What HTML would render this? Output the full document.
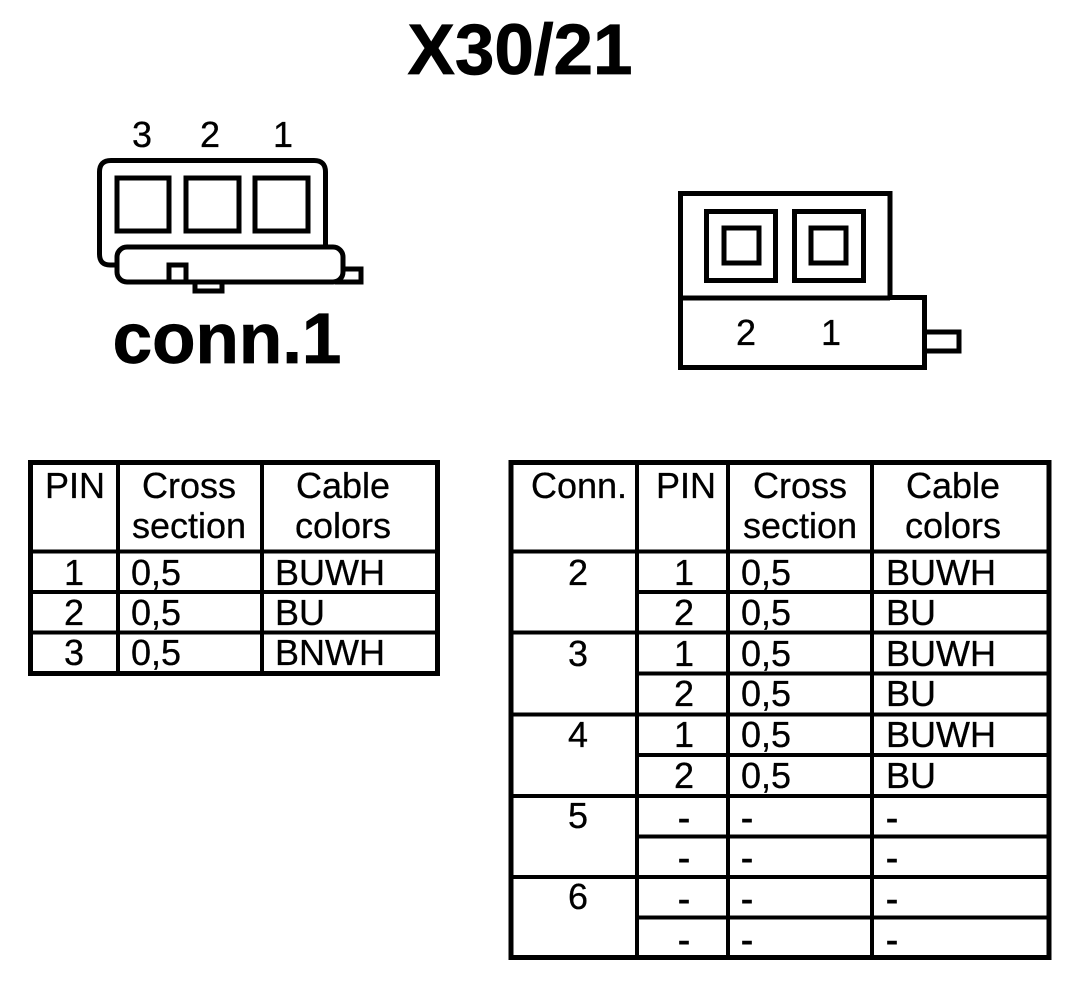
<!DOCTYPE html>
<html><head><meta charset="utf-8"><style>
html,body{margin:0;padding:0;background:#fff}
svg{display:block}
text{font-family:"Liberation Sans",Arial,sans-serif;font-size:36px;fill:#000;stroke:#000;stroke-width:.3px}
.c{text-anchor:middle}
.b{font-weight:bold;font-size:71px;stroke-width:.8px}
.d{stroke-width:.9px}
</style></head><body>
<svg width="1088" height="992" viewBox="0 0 1088 992" xmlns="http://www.w3.org/2000/svg">
<rect width="1088" height="992" fill="#fff"/>
<text class="b c" x="520" y="74">X30/21</text>
<text class="b c" x="227" y="363">conn.1</text>

<g fill="none" stroke="#000" stroke-width="5">
<path d="M117 265H110Q99.500 265 99.500 254V172Q99.500 160.500 111 160.500H314Q325.500 160.500 325.500 172V247"/>
<rect x="117" y="178" width="52" height="53"/>
<rect x="186" y="178" width="53" height="53"/>
<rect x="255" y="178" width="53" height="53"/>
<path d="M343 269H361V282H335"/>
<path d="M195 283V291H222V283"/>
<rect x="117" y="247" width="226" height="35" rx="10" fill="#fff"/>
<path d="M169 282V265H186V282"/>
</g>
<text class="c" x="142" y="147">3</text>
<text class="c" x="210" y="147">2</text>
<text class="c" x="283" y="147">1</text>

<g fill="none" stroke="#000" stroke-width="5">
<path d="M890 297V193.500H680.500V367.500H924.500V297.500H888M680 298H890"/>
<rect x="706.500" y="211.500" width="69" height="69"/>
<rect x="794.500" y="211.500" width="69" height="69"/>
<rect x="724" y="228" width="35" height="35"/>
<rect x="811" y="228" width="35" height="35"/>
<path d="M926 332H959V351H926"/>
</g>
<text class="c" x="746" y="345">2</text>
<text class="c" x="831" y="345">1</text>

<!-- left table -->
<g stroke="#000" fill="none">
<rect x="30.500" y="462.500" width="407" height="211" stroke-width="5"/>
<path stroke-width="4" d="M118 462V674M262 462V674M30 551.500H438M30 592H438M30 632.500H438"/>
</g>
<text class="c" x="75" y="498">PIN</text>
<text class="c" x="189" y="498">Cross</text>
<text class="c" x="189" y="538">section</text>
<text class="c" x="343" y="498">Cable</text>
<text class="c" x="343" y="538">colors</text>
<text class="c" x="74" y="585">1</text><text x="131" y="585">0,5</text><text x="275" y="585">BUWH</text>
<text class="c" x="74" y="625">2</text><text x="131" y="625">0,5</text><text x="275" y="625">BU</text>
<text class="c" x="74" y="665">3</text><text x="131" y="665">0,5</text><text x="275" y="665">BNWH</text>

<!-- right table -->
<g stroke="#000" fill="none">
<rect x="511" y="462.500" width="538" height="495" stroke-width="5"/>
<path stroke-width="4" d="M637 462V958M728 462V958M872 462V958M511 551.500H1049M511 632.500H1049M511 714.500H1049M511 796H1049M511 877H1049M637 592H1049M637 673.500H1049M637 755H1049M637 836.500H1049M637 917.500H1049"/>
</g>
<text class="c" x="579" y="498">Conn.</text>
<text class="c" x="686" y="498">PIN</text>
<text class="c" x="800" y="498">Cross</text>
<text class="c" x="800" y="538">section</text>
<text class="c" x="953" y="498">Cable</text>
<text class="c" x="953" y="538">colors</text>

<text class="c" x="578" y="585">2</text>
<text class="c" x="578" y="666">3</text>
<text class="c" x="578" y="747">4</text>
<text class="c" x="578" y="828">5</text>
<text class="c" x="578" y="909">6</text>

<text class="c" x="684" y="585">1</text><text x="741" y="585">0,5</text><text x="886" y="585">BUWH</text>
<text class="c" x="684" y="625">2</text><text x="741" y="625">0,5</text><text x="886" y="625">BU</text>
<text class="c" x="684" y="666">1</text><text x="741" y="666">0,5</text><text x="886" y="666">BUWH</text>
<text class="c" x="684" y="706">2</text><text x="741" y="706">0,5</text><text x="886" y="706">BU</text>
<text class="c" x="684" y="747">1</text><text x="741" y="747">0,5</text><text x="886" y="747">BUWH</text>
<text class="c" x="684" y="788">2</text><text x="741" y="788">0,5</text><text x="886" y="788">BU</text>
<text class="c d" x="684" y="830">-</text><text class="d" x="741" y="830">-</text><text class="d" x="886" y="830">-</text>
<text class="c d" x="684" y="870">-</text><text class="d" x="741" y="870">-</text><text class="d" x="886" y="870">-</text>
<text class="c d" x="684" y="911">-</text><text class="d" x="741" y="911">-</text><text class="d" x="886" y="911">-</text>
<text class="c d" x="684" y="952">-</text><text class="d" x="741" y="952">-</text><text class="d" x="886" y="952">-</text>
</svg>
</body></html>
